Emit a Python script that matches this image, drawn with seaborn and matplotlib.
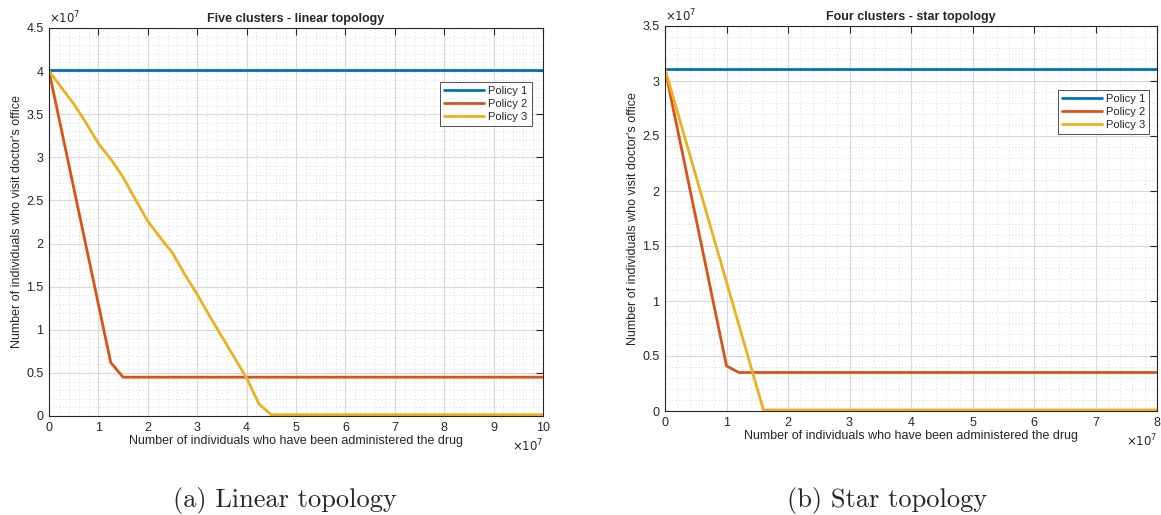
import numpy as np
import pandas as pd
import matplotlib
matplotlib.use("Agg")
import matplotlib.pyplot as plt
import seaborn as sns
from matplotlib.ticker import FuncFormatter, MultipleLocator

# ---------------- data (values in individuals) ----------------
policies = ["Policy 1", "Policy 2", "Policy 3"]

# Left: Five clusters - linear topology
lin_p1_x = [0.0, 10.0e7]
lin_p1_y = [4.01e7, 4.01e7]
lin_p2_x = [0.0, 1.25e7, 1.5e7, 10.0e7]
lin_p2_y = [4.0e7, 0.62e7, 0.45e7, 0.45e7]
lin_p3_x = [0.0, 0.25e7, 0.5e7, 0.75e7, 1.0e7, 1.25e7, 1.5e7, 1.75e7, 2.0e7,
            2.25e7, 2.5e7, 2.75e7, 3.0e7, 3.25e7, 3.5e7, 3.75e7, 4.0e7,
            4.25e7, 4.5e7, 10.0e7]
lin_p3_y = [4.0e7, 3.81e7, 3.62e7, 3.40e7, 3.16e7, 2.98e7, 2.77e7, 2.51e7, 2.26e7,
            2.07e7, 1.89e7, 1.64e7, 1.41e7, 1.16e7, 0.92e7, 0.68e7, 0.44e7,
            0.14e7, 0.015e7, 0.015e7]

# Right: Four clusters - star topology
star_p1_x = [0.0, 8.0e7]
star_p1_y = [3.11e7, 3.11e7]
star_p2_x = [0.0, 1.0e7, 1.2e7, 8.0e7]
star_p2_y = [3.11e7, 0.41e7, 0.35e7, 0.35e7]
star_p3_x = [0.0, 1.6e7, 8.0e7]
star_p3_y = [3.11e7, 0.01e7, 0.01e7]

titles = ["Five clusters - linear topology", "Four clusters - star topology"]
captions = ["(a) Linear topology", "(b) Star topology"]
xlabel = "Number of individuals who have been administered the drug"
ylabel = "Number of individuals who visit doctor's office"

colors = ["#0072BD", "#D95319", "#EDB120"]


def make_df(xs, ys):
    frames = []
    for name, x, y in zip(policies, xs, ys):
        frames.append(pd.DataFrame({"x": x, "y": y, "policy": name}))
    return pd.concat(frames, ignore_index=True)


df_lin = make_df([lin_p1_x, lin_p2_x, lin_p3_x], [lin_p1_y, lin_p2_y, lin_p3_y])
df_star = make_df([star_p1_x, star_p2_x, star_p3_x], [star_p1_y, star_p2_y, star_p3_y])

sns.set_style("white")
plt.rcParams["font.family"] = ["Liberation Sans", "DejaVu Sans"]

fig = plt.figure(figsize=(11.61, 5.15), dpi=100)
W, H = 1161, 515

# axes rectangles in pixels (left, right, top, bottom)
rects = [(49, 543, 28, 416), (665, 1157, 26, 411)]
xlims = [(0, 10e7), (0, 8e7)]
ylims = [(0, 4.5e7), (0, 3.5e7)]
legend_anchor = [(0.988, 0.874), (0.996, 0.847)]
caption_x = [285, 887]
dfs = [df_lin, df_star]

fmt = FuncFormatter(lambda v, p: f"{v/1e7:g}")

for i in range(2):
    l, r, t, b = rects[i]
    ax = fig.add_axes([l / W, 1 - b / H, (r - l) / W, (b - t) / H])
    sns.lineplot(data=dfs[i], x="x", y="y", hue="policy", palette=colors,
                 linewidth=2.0, ax=ax, sort=False, estimator=None)
    ax.set_xlim(*xlims[i])
    ax.set_ylim(*ylims[i])
    ax.xaxis.set_major_locator(MultipleLocator(1e7))
    ax.xaxis.set_minor_locator(MultipleLocator(0.2e7))
    ax.yaxis.set_major_locator(MultipleLocator(0.5e7))
    ax.yaxis.set_minor_locator(MultipleLocator(0.1e7))
    ax.xaxis.set_major_formatter(fmt)
    ax.yaxis.set_major_formatter(fmt)
    ax.grid(which="major", color="#d9d9d9", linewidth=0.8, linestyle="-")
    ax.grid(which="minor", color="#cfcfcf", linewidth=0.6, linestyle=(0, (1, 3)))
    ax.set_axisbelow(True)
    ax.tick_params(which="major", direction="in", length=5, width=0.8,
                   top=True, right=True, labelsize=9, colors="#262626",
                   pad=4)
    ax.tick_params(which="minor", length=0, top=False, right=False)
    for s in ax.spines.values():
        s.set_color("#262626")
        s.set_linewidth(0.8)
    ax.set_title(titles[i], fontsize=9, fontweight="bold", pad=4)
    ax.set_xlabel(xlabel, fontsize=9, labelpad=1)
    ax.set_ylabel(ylabel, fontsize=9, labelpad=2)
    ax.text(0.0, 1.005, r"$\times10^7$", transform=ax.transAxes, fontsize=8.5,
            color="#262626", ha="left", va="bottom")
    ax.text(1.0, -22 / (b - t), r"$\times10^7$", transform=ax.transAxes,
            fontsize=8.5, color="#262626", ha="right", va="top")
    leg = ax.legend(loc="upper right", bbox_to_anchor=legend_anchor[i],
                    fontsize=8, frameon=True, fancybox=False,
                    edgecolor="#262626", handlelength=3.6, borderpad=0.35,
                    labelspacing=0.25, handletextpad=0.4, title=None)
    leg.get_frame().set_linewidth(0.7)
    fig.text(caption_x[i] / W, 1 - 501 / H, captions[i],
             fontsize=19, family="cmr10", ha="center", va="center")

fig.savefig("out.png", dpi=100)
